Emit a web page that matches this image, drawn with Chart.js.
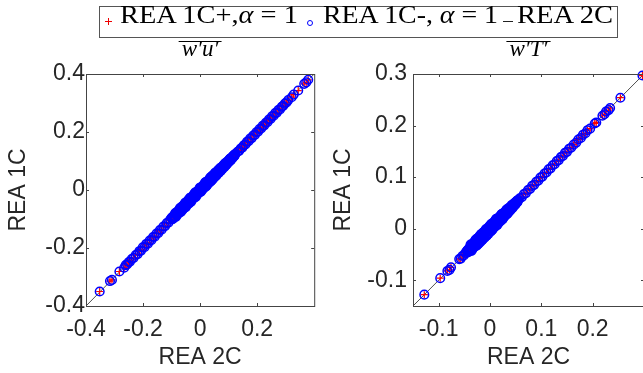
<!DOCTYPE html>
<html>
<head>
<meta charset="utf-8">
<script src="https://cdn.jsdelivr.net/npm/chart.js@4.4.1/dist/chart.umd.min.js"></script>
<style>
html, body { margin:0; padding:0; background:#fff; }
#wrap { position:relative; width:643px; height:373px; overflow:hidden; }
#left { position:absolute; left:0; top:0; }
#right { position:absolute; left:320px; top:0; }
#legend { position:absolute; left:99px; top:6px; width:517px; height:30px; border:1px solid #555;
  background:#fff; font-family:"Liberation Serif", serif; font-size:25px; color:#000; z-index:2; }
#legend .txt { position:absolute; top:-5px; white-space:nowrap; line-height:25px; transform-origin:0 0; }
#legend .bar { position:absolute; }
</style>
</head>
<body>
<div id="wrap">
  <canvas id="left" width="320" height="373"></canvas>
  <canvas id="right" width="340" height="373"></canvas>
  <div id="legend">
    <div class="bar" style="left:5px;top:14px;width:7px;height:1px;background:#e00;"></div>
    <div class="bar" style="left:8px;top:11px;width:1px;height:7px;background:#e00;"></div>
    <span class="txt" data-w="178" style="left:20px;">REA 1C+,<i>α</i> = 1</span>
    <div class="bar" style="left:207px;top:13px;width:4px;height:4px;border:1px solid #00f;border-radius:50%;"></div>
    <span class="txt" data-w="175" style="left:223px;">REA 1C-, <i>α</i> = 1</span>
    <div class="bar" style="left:403px;top:14px;width:10px;height:1px;background:#222;"></div>
    <span class="txt" data-w="96" style="left:417px;">REA 2C</span>
  </div>
</div>
<script>
// w'u' : [REA 2C, REA 1C]
const wuPoints = [
  [-0.352,-0.350],[-0.316,-0.314],[-0.309,-0.310],[-0.283,-0.281],[-0.266,-0.268],[-0.261,-0.259],
  [-0.256,-0.257],[-0.251,-0.249],[-0.246,-0.247],[-0.240,-0.238],[-0.233,-0.234],[-0.226,-0.224],
  [-0.219,-0.221],[-0.213,-0.211],[-0.207,-0.209],[-0.201,-0.198],[-0.195,-0.197],[-0.189,-0.186],
  [-0.183,-0.185],[-0.177,-0.174],[-0.171,-0.173],[-0.165,-0.162],[-0.159,-0.161],[-0.153,-0.150],
  [-0.147,-0.149],[-0.141,-0.138],[-0.135,-0.137],[-0.129,-0.126],[-0.123,-0.125],[-0.117,-0.114],
  [-0.111,-0.113],[-0.105,-0.102],
  [-0.100,-0.096],[-0.097,-0.101],[-0.093,-0.090],[-0.090,-0.094],[-0.086,-0.081],[-0.083,-0.087],
  [-0.079,-0.076],[-0.076,-0.081],[-0.072,-0.067],[-0.069,-0.073],[-0.065,-0.060],[-0.062,-0.068],
  [-0.058,-0.053],[-0.055,-0.061],[-0.051,-0.045],[-0.048,-0.054],[-0.044,-0.038],[-0.041,-0.047],
  [-0.037,-0.031],[-0.034,-0.040],[-0.030,-0.024],[-0.027,-0.033],[-0.023,-0.017],[-0.020,-0.026],
  [-0.016,-0.010],[-0.013,-0.019],[-0.009,-0.003],[-0.006,-0.012],[-0.002,0.004],[0.001,-0.006],
  [0.005,0.011],[0.008,0.001],[0.012,0.018],[0.015,0.008],[0.019,0.025],[0.022,0.015],
  [0.026,0.031],[0.029,0.022],[0.033,0.038],[0.036,0.029],[0.040,0.045],[0.043,0.036],
  [0.047,0.052],[0.050,0.043],[0.054,0.059],[0.057,0.050],[0.061,0.065],[0.064,0.058],
  [0.068,0.072],[0.071,0.065],[0.075,0.079],[0.078,0.072],[0.082,0.086],[0.085,0.079],
  [0.089,0.092],[0.092,0.087],[0.096,0.099],[0.099,0.094],[0.103,0.106],[0.106,0.101],
  [0.110,0.112],[0.113,0.109],[0.117,0.119],[0.120,0.117],[0.124,0.125],
  [-0.098,-0.098],[-0.095,-0.092],[-0.092,-0.095],[-0.088,-0.080],[-0.085,-0.093],
  [-0.081,-0.081],[-0.078,-0.075],[-0.074,-0.077],[-0.071,-0.062],[-0.067,-0.076],
  [-0.064,-0.064],[-0.060,-0.057],[-0.057,-0.060],[-0.053,-0.044],[-0.050,-0.059],
  [-0.046,-0.046],[-0.043,-0.040],[-0.039,-0.042],[-0.036,-0.027],[-0.032,-0.041],
  [-0.029,-0.029],[-0.025,-0.022],[-0.022,-0.025],[-0.018,-0.009],[-0.015,-0.024],
  [-0.011,-0.011],[-0.008,-0.005],[-0.004,-0.007],[-0.001,0.008],[0.003,-0.006],
  [0.007,0.007],[0.010,0.013],[0.014,0.011],[0.017,0.026],[0.021,0.012],
  [0.024,0.024],[0.028,0.031],[0.031,0.028],[0.035,0.043],[0.038,0.030],
  [0.042,0.042],[0.045,0.048],[0.049,0.046],[0.052,0.059],[0.056,0.049],
  [0.059,0.059],[0.063,0.065],[0.066,0.064],[0.070,0.076],[0.073,0.067],
  [0.077,0.077],[0.080,0.082],[0.084,0.082],[0.087,0.092],[0.091,0.086],
  [0.094,0.094],[0.098,0.100],[0.101,0.099],[0.105,0.108],[0.108,0.104],
  [0.112,0.112],[0.115,0.116],[0.119,0.118],[0.122,0.123],
  [-0.099,-0.095],[-0.096,-0.100],[-0.091,-0.090],[-0.089,-0.091],[-0.084,-0.078],[-0.082,-0.088],
  [-0.077,-0.072],[-0.075,-0.080],[-0.070,-0.069],[-0.068,-0.070],[-0.063,-0.056],[-0.061,-0.068],
  [-0.056,-0.051],[-0.054,-0.059],[-0.049,-0.048],[-0.047,-0.049],[-0.042,-0.035],[-0.040,-0.047],
  [-0.035,-0.030],[-0.033,-0.038],[-0.028,-0.027],[-0.026,-0.028],[-0.021,-0.014],[-0.019,-0.026],
  [-0.014,-0.009],[-0.012,-0.017],[-0.007,-0.006],[-0.005,-0.007],[0.000,0.007],[0.002,-0.005],
  [0.006,0.011],[0.009,0.004],[0.013,0.014],[0.016,0.014],[0.020,0.027],[0.023,0.016],
  [0.027,0.032],[0.030,0.025],[0.034,0.035],[0.037,0.035],[0.041,0.048],[0.044,0.037],
  [0.048,0.053],[0.051,0.046],[0.055,0.056],[0.058,0.056],[0.062,0.068],[0.065,0.059],
  [0.069,0.073],[0.072,0.068],[0.076,0.077],[0.079,0.078],[0.083,0.087],[0.086,0.082],
  [0.090,0.093],[0.093,0.090],[0.097,0.098],[0.100,0.099],[0.104,0.107],[0.107,0.104],
  [0.111,0.112],[0.114,0.113],[0.118,0.120],[0.121,0.119],
  [0.131,0.132],[0.137,0.135],[0.142,0.143],[0.148,0.146],[0.153,0.154],[0.159,0.157],
  [0.164,0.166],[0.170,0.168],[0.175,0.177],[0.181,0.179],[0.186,0.188],[0.192,0.190],
  [0.197,0.199],[0.203,0.201],[0.208,0.210],[0.214,0.212],[0.219,0.221],[0.225,0.223],
  [0.230,0.232],[0.236,0.234],[0.241,0.243],[0.247,0.245],[0.252,0.254],[0.258,0.256],
  [0.263,0.265],[0.269,0.267],[0.274,0.276],[0.280,0.278],[0.286,0.287],[0.291,0.290],
  [0.297,0.298],[0.303,0.302],[0.309,0.310],[0.321,0.320],[0.328,0.329],[0.344,0.343],
  [0.365,0.366],[0.372,0.371],[0.379,0.380]
];
// w'T' : [REA 2C, REA 1C]
const wTPoints = [
  [-0.128,-0.128],[-0.097,-0.096],[-0.083,-0.082],[-0.079,-0.080],[-0.076,-0.075],[-0.060,-0.059],
  [-0.057,-0.058],[-0.054,-0.053],[-0.051,-0.052],[-0.048,-0.047],
  [-0.045,-0.043],[-0.043,-0.046],[-0.041,-0.038],[-0.039,-0.043],[-0.037,-0.033],[-0.035,-0.039],
  [-0.033,-0.028],[-0.031,-0.036],[-0.029,-0.023],[-0.027,-0.033],[-0.025,-0.019],[-0.023,-0.030],
  [-0.021,-0.015],[-0.019,-0.026],[-0.017,-0.011],[-0.015,-0.022],[-0.013,-0.007],[-0.011,-0.018],
  [-0.009,-0.003],[-0.007,-0.014],[-0.005,0.001],[-0.003,-0.010],[-0.001,0.005],[0.001,-0.006],
  [0.003,0.009],[0.005,-0.001],[0.007,0.013],[0.009,0.003],[0.011,0.017],[0.013,0.007],
  [0.015,0.020],[0.017,0.011],[0.019,0.024],[0.021,0.015],[0.023,0.028],[0.025,0.019],
  [0.027,0.031],[0.029,0.024],[0.031,0.035],[0.033,0.028],[0.035,0.038],[0.037,0.033],
  [0.039,0.042],[0.041,0.037],[0.043,0.045],[0.045,0.042],[0.047,0.049],[0.049,0.046],
  [0.051,0.052],[0.053,0.051],[0.055,0.056],
  [-0.044,-0.044],[-0.042,-0.040],[-0.040,-0.042],[-0.038,-0.031],[-0.036,-0.043],
  [-0.034,-0.034],[-0.032,-0.030],[-0.030,-0.032],[-0.028,-0.021],[-0.026,-0.033],
  [-0.024,-0.024],[-0.022,-0.020],[-0.020,-0.022],[-0.018,-0.011],[-0.016,-0.023],
  [-0.014,-0.014],[-0.012,-0.010],[-0.010,-0.012],[-0.008,-0.001],[-0.006,-0.013],
  [-0.004,-0.004],[-0.002,0.000],[0.000,-0.002],[0.002,0.009],[0.004,-0.003],
  [0.006,0.006],[0.008,0.010],[0.010,0.008],[0.012,0.019],[0.014,0.007],
  [0.016,0.016],[0.018,0.020],[0.020,0.018],[0.022,0.028],[0.024,0.018],
  [0.026,0.026],[0.028,0.030],[0.030,0.028],[0.032,0.037],[0.034,0.029],
  [0.036,0.036],[0.038,0.040],[0.040,0.038],[0.042,0.046],[0.044,0.040],
  [0.046,0.046],[0.048,0.049],[0.050,0.049],[0.052,0.054],[0.054,0.053],
  [-0.0445,-0.0425],[-0.0425,-0.0445],[-0.0405,-0.0395],[-0.0385,-0.0395],[-0.0365,-0.0315],[-0.0345,-0.0405],
  [-0.0325,-0.0285],[-0.0305,-0.0345],[-0.0285,-0.0275],[-0.0265,-0.0275],[-0.0245,-0.0185],[-0.0225,-0.0285],
  [-0.0205,-0.0165],[-0.0185,-0.0225],[-0.0165,-0.0155],[-0.0145,-0.0155],[-0.0125,-0.0065],[-0.0105,-0.0165],
  [-0.0085,-0.0045],[-0.0065,-0.0105],[-0.0045,-0.0035],[-0.0025,-0.0035],[-0.0005,0.0055],[0.0015,-0.0045],
  [0.0035,0.0075],[0.0055,0.0015],[0.0075,0.0085],[0.0095,0.0085],[0.0115,0.0175],[0.0135,0.0075],
  [0.0155,0.0195],[0.0175,0.0135],[0.0195,0.0205],[0.0215,0.0205],[0.0235,0.0285],[0.0255,0.0205],
  [0.0275,0.0305],[0.0295,0.0265],[0.0315,0.0325],[0.0335,0.0325],[0.0355,0.0395],[0.0375,0.0335],
  [0.0395,0.0415],[0.0415,0.0395],[0.0435,0.0445],[0.0455,0.0445],[0.0475,0.0495],[0.0495,0.0475],
  [0.0515,0.0525],[0.0535,0.0525],
  [0.058,0.059],[0.062,0.061],[0.066,0.067],[0.070,0.069],[0.074,0.075],[0.078,0.077],
  [0.082,0.083],[0.086,0.085],[0.090,0.091],[0.094,0.093],[0.098,0.099],[0.102,0.101],
  [0.106,0.107],[0.110,0.109],[0.114,0.115],[0.118,0.117],[0.122,0.123],[0.126,0.125],
  [0.130,0.131],[0.134,0.133],[0.138,0.139],[0.142,0.141],[0.146,0.147],[0.150,0.149],
  [0.154,0.155],[0.158,0.157],
  [0.163,0.163],[0.168,0.167],[0.172,0.173],[0.177,0.176],[0.181,0.182],[0.186,0.185],
  [0.190,0.191],[0.195,0.194],[0.204,0.204],[0.207,0.206],[0.219,0.219],[0.223,0.222],
  [0.226,0.227],[0.231,0.230],[0.234,0.234],[0.254,0.254],[0.297,0.297]
];
// REA 2C reference line (1:1)
const wuLine = [[-0.4,-0.4],[0.4,0.4]];
const wTLine = [[-0.15,-0.15],[0.3,0.3]];

const wuRange = [-0.4, 0.4];
const wTRange = [-0.15, 0.3];
const wuTicksX = [-0.4, -0.2, 0, 0.2];
const wuTicksY = [-0.4, -0.2, 0, 0.2, 0.4];
const wTTicksX = [-0.1, 0, 0.1, 0.2];
const wTTicksY = [-0.1, 0, 0.1, 0.2, 0.3];

const AX = '#262626';
const sans = 'Liberation Sans';
const titleFont = { family: 'Liberation Serif', style: 'italic', size: 23, weight: 'normal', lineHeight: 1.2 };

// box round the axes with small inward ticks, like matlab
const framePlugin = {
  id: 'frame',
  afterDraw(chart) {
    const {ctx, chartArea: a} = chart;
    const xs = chart.scales.x, ys = chart.scales.y;
    ctx.save();
    ctx.strokeStyle = '#444';
    ctx.lineWidth = 1;
    ctx.strokeRect(a.left + 0.5, a.top + 0.5, a.right - a.left, a.bottom - a.top);
    ctx.beginPath();
    xs.ticks.forEach(t => {
      const p = Math.round(xs.getPixelForValue(t.value)) + 0.5;
      ctx.moveTo(p, a.bottom); ctx.lineTo(p, a.bottom - 3);
      ctx.moveTo(p, a.top); ctx.lineTo(p, a.top + 3);
    });
    ys.ticks.forEach(t => {
      const p = Math.round(ys.getPixelForValue(t.value)) + 0.5;
      ctx.moveTo(a.left, p); ctx.lineTo(a.left + 3, p);
      ctx.moveTo(a.right, p); ctx.lineTo(a.right - 3, p);
    });
    ctx.stroke();
    ctx.restore();
  }
};

// overline over the title (latex \overline)
const overlinePlugin = {
  id: 'overline',
  afterDraw(chart) {
    const tb = chart.titleBlock;
    if (!tb) return;
    const ctx = chart.ctx;
    ctx.save();
    ctx.font = 'italic ' + titleFont.size + 'px "Liberation Serif"';
    const w = ctx.measureText(chart.options.plugins.title.text).width;
    const cx = (tb.left + tb.right) / 2;
    const y = Math.round(tb.top + 4.5) + 0.5;
    ctx.strokeStyle = '#000';
    ctx.lineWidth = 1;
    ctx.beginPath();
    ctx.moveTo(cx - w / 2 - 3, y);
    ctx.lineTo(cx + w / 2 + 3, y);
    ctx.stroke();
    ctx.restore();
  }
};

function fmt(v) {
  return Math.abs(v) < 1e-9 ? '0' : String(v);
}

function makePanel(id, title, pts, line, range, ticksX, ticksY, opt) {
  const xy = p => ({x: p[0], y: p[1]});
  return new Chart(document.getElementById(id), {
    type: 'scatter',
    data: {
      datasets: [{
        label: 'REA 1C+, α = 1',
        data: pts.map(xy),
        pointStyle: 'cross',
        pointRadius: 3.5,
        borderColor: '#ff0000',
        borderWidth: 1.2,
        clip: false,
        order: 2
      }, {
        label: 'REA 1C-, α = 1',
        data: pts.map(xy),
        pointStyle: 'circle',
        pointRadius: 4.3,
        borderColor: '#0000ff',
        backgroundColor: 'rgba(0,0,0,0)',
        borderWidth: 1.5,
        clip: false,
        order: 1
      }, {
        label: 'REA 2C',
        data: line.map(xy),
        showLine: true,
        borderColor: '#222',
        borderWidth: 0.8,
        pointRadius: 0,
        order: 3
      }]
    },
    options: {
      responsive: false,
      animation: false,
      devicePixelRatio: 1,
      layout: { padding: { left: 0, right: opt.padRight, top: 36, bottom: 0 } },
      plugins: {
        legend: { display: false },
        tooltip: { enabled: false },
        title: {
          display: true,
          text: title,
          fullSize: false,
          color: '#000',
          font: titleFont,
          padding: { top: 0, bottom: 74 - 36 - titleFont.size * 1.2 }
        }
      },
      scales: {
        x: {
          type: 'linear',
          min: range[0], max: range[1],
          afterBuildTicks: s => { s.ticks = ticksX.map(v => ({value: v})); },
          afterFit: s => { s.height = 67; },
          grid: { display: false, drawTicks: false },
          border: { display: false },
          ticks: { color: AX, padding: 10, font: { family: sans, size: 23 }, callback: fmt },
          title: { display: true, text: 'REA 2C', color: AX, font: { family: sans, size: 23 }, padding: { top: 0, bottom: 2 } }
        },
        y: {
          type: 'linear',
          min: range[0], max: range[1],
          afterBuildTicks: s => { s.ticks = ticksY.map(v => ({value: v})); },
          afterFit: s => { s.width = opt.yWidth; },
          grid: { display: false, drawTicks: false },
          border: { display: false },
          ticks: { color: AX, padding: opt.tickPad, font: { family: sans, size: 23 }, callback: fmt },
          title: { display: true, text: 'REA 1C', color: AX, font: { family: sans, size: 23 }, padding: { top: opt.titlePad, bottom: 0 } }
        }
      }
    },
    plugins: [framePlugin, overlinePlugin]
  });
}

makePanel('left', 'w′u′', wuPoints, wuLine, wuRange, wuTicksX, wuTicksY,
  { padRight: 3, yWidth: 86, tickPad: 1, titlePad: 5 });
makePanel('right', 'w′T′', wTPoints, wTLine, wTRange, wTTicksX, wTTicksY,
  { padRight: 16, yWidth: 93, tickPad: 6, titlePad: 10 });

// stretch legend text to the widths of the latex original
document.querySelectorAll('#legend .txt').forEach(s => {
  const w = s.getBoundingClientRect().width;
  s.style.transform = 'scaleX(' + (Number(s.dataset.w) / w).toFixed(3) + ')';
});
</script>
</body>
</html>
